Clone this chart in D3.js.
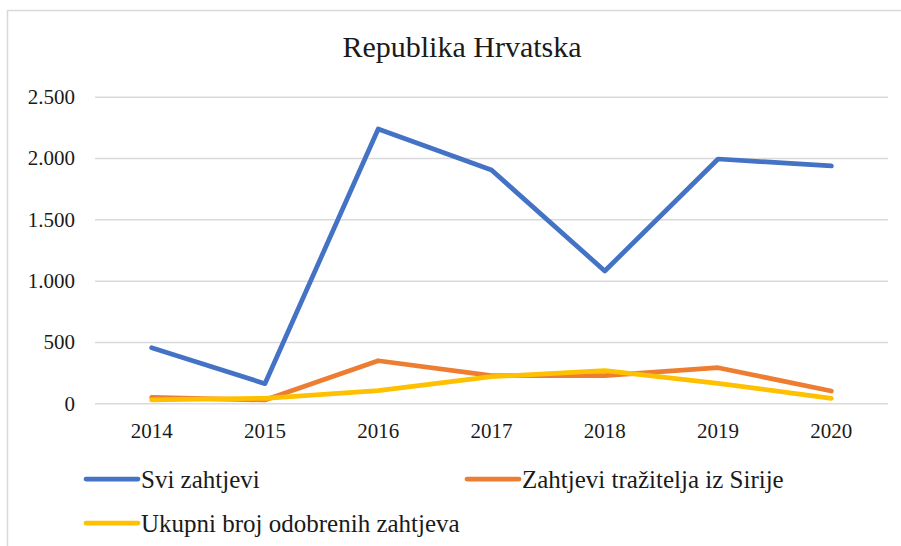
<!DOCTYPE html>
<html>
<head>
<meta charset="utf-8">
<script src="https://cdn.jsdelivr.net/npm/d3@7"></script>
<style>
  html, body { margin: 0; padding: 0; background: #fff; }
  svg { display: block; }
  svg text { font-family: "Liberation Serif", "Times New Roman", Times, Tinos, "Noto Serif", "DejaVu Serif", serif !important; }
</style>
</head>
<body>
<svg id="chart" width="901" height="546"></svg>
<script>
const title = "Republika Hrvatska";
const years = ["2014", "2015", "2016", "2017", "2018", "2019", "2020"];
const sviZahtjevi = [453, 160, 2237, 1902, 1079, 1992, 1935];
const zahtjeviSirija = [49, 27, 347, 225, 225, 290, 100];
const odobreniZahtjevi = [27, 41, 103, 217, 266, 163, 41];
const yTicks = [0, 500, 1000, 1500, 2000, 2500];
const seriesNames = ["Svi zahtjevi", "Zahtjevi tražitelja iz Sirije", "Ukupni broj odobrenih zahtjeva"];
const seriesColors = ["#4472C4", "#ED7D31", "#FFC000"];

const series = [
  { name: seriesNames[0], values: sviZahtjevi, color: seriesColors[0] },
  { name: seriesNames[1], values: zahtjeviSirija, color: seriesColors[1] },
  { name: seriesNames[2], values: odobreniZahtjevi, color: seriesColors[2] }
];

const svg = d3.select("#chart");

// outer border
svg.append("rect")
  .attr("x", 7.5).attr("y", 10.5)
  .attr("width", 920).attr("height", 560)
  .attr("fill", "none").attr("stroke", "#d9d9d9").attr("stroke-width", 1.5);

const plot = { left: 95, right: 888, top: 96.7, bottom: 403.3 };

const x = d3.scaleBand().domain(years).range([plot.left, plot.right]);
const y = d3.scaleLinear().domain([0, 2500]).range([plot.bottom, plot.top]);

// title
svg.append("text")
  .attr("x", 462).attr("y", 57)
  .attr("text-anchor", "middle")
  .attr("font-size", 30)
  .attr("fill", "#1a1a1a")
  .text(title);

// gridlines + y labels
const yAxis = d3.axisLeft(y).tickValues(yTicks)
  .tickSize(-(plot.right - plot.left))
  .tickFormat(d => d3.format(",")(d).replace(/,/g, "."))
  .tickPadding(20);
const gy = svg.append("g").attr("transform", `translate(${plot.left},0)`).call(yAxis);
gy.attr("font-family", null);
gy.select(".domain").remove();
gy.selectAll(".tick line").attr("stroke", "#d9d9d9").attr("stroke-width", 1.5);
gy.selectAll(".tick text").attr("font-size", 21).attr("fill", "#1a1a1a");

// x axis labels
const xAxis = d3.axisBottom(x).tickSize(0).tickPadding(20);
const gx = svg.append("g").attr("transform", `translate(0,${plot.bottom})`).call(xAxis);
gx.attr("font-family", null);
gx.select(".domain").remove();
gx.selectAll(".tick text").attr("font-size", 21).attr("fill", "#1a1a1a");

// lines
const line = d3.line()
  .x((d, i) => x(years[i]) + x.bandwidth() / 2)
  .y(d => y(d));

series.forEach(s => {
  svg.append("path")
    .datum(s.values)
    .attr("d", line)
    .attr("fill", "none")
    .attr("stroke", s.color)
    .attr("stroke-width", 4.75)
    .attr("stroke-linejoin", "round")
    .attr("stroke-linecap", "round");
});

// legend
const legendPos = [
  { lx: 86, ly: 479 },
  { lx: 467, ly: 479 },
  { lx: 86, ly: 523 }
];
series.forEach((s, i) => {
  const p = legendPos[i];
  svg.append("line")
    .attr("x1", p.lx).attr("x2", p.lx + 52)
    .attr("y1", p.ly).attr("y2", p.ly)
    .attr("stroke", s.color).attr("stroke-width", 4.75)
    .attr("stroke-linecap", "round");
  svg.append("text")
    .attr("x", p.lx + 55).attr("y", p.ly + 9)
    .attr("font-size", 25).attr("fill", "#1a1a1a")
    .text(s.name);
});
</script>
</body>
</html>
